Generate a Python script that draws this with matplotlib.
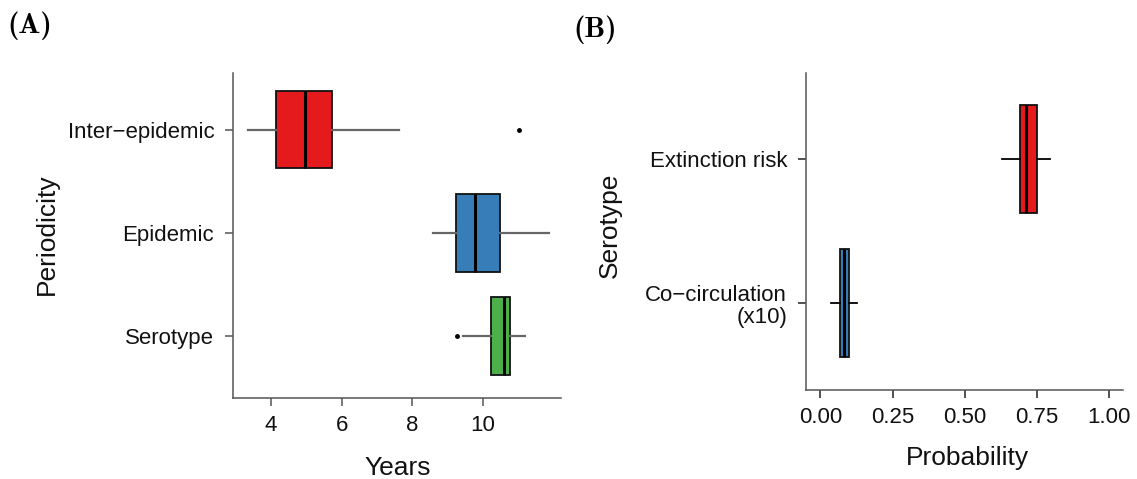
import matplotlib
matplotlib.use("Agg")
import matplotlib.pyplot as plt

plt.rcParams['font.family'] = ['Liberation Sans', 'DejaVu Sans']

# ---------------- Data ----------------
# Panel A: periodicity (years)
cats_a = ["Serotype", "Epidemic", "Inter\u2212epidemic"]
a_whislo = [9.43, 8.58, 3.36]
a_q1 = [10.23, 9.23, 4.15]
a_med = [10.58, 9.76, 4.96]
a_q3 = [10.77, 10.47, 5.73]
a_whishi = [11.17, 11.85, 7.61]
a_fliers = [[9.27], [], [11.0]]
a_colors = ["#4DAF4A", "#377EB8", "#E41A1C"]
a_xticks = [4, 6, 8, 10]

# Panel B: probability
cats_b = ["Co\u2212circulation\n(x10)", "Extinction risk"]
b_whislo = [0.035, 0.630]
b_q1 = [0.069, 0.691]
b_med = [0.081, 0.712]
b_q3 = [0.100, 0.749]
b_whishi = [0.126, 0.795]
b_colors = ["#377EB8", "#E41A1C"]
b_xticks = [0.0, 0.25, 0.5, 0.75, 1.0]
b_xticklabels = ["0.00", "0.25", "0.50", "0.75", "1.00"]

W, H = 1137, 479
fig = plt.figure(figsize=(W / 100, H / 100), dpi=100)

def px_axes(l, t, r, b):
    return fig.add_axes([l / W, 1 - b / H, (r - l) / W, (b - t) / H])

spine_col = "#555555"

def style(ax, tickcol):
    for s in ["top", "right"]:
        ax.spines[s].set_visible(False)
    for s in ["left", "bottom"]:
        ax.spines[s].set_color(spine_col)
        ax.spines[s].set_linewidth(1.1)
    ax.tick_params(axis="both", length=5.5, width=1.1, color=tickcol,
                   labelsize=16, labelcolor="#111111")
    ax.tick_params(axis="x", pad=6.5)
    ax.tick_params(axis="y", pad=8)

# ---------------- Panel A ----------------
axA = px_axes(233, 73, 561, 398)
statsA = []
for i in range(len(cats_a)):
    statsA.append(dict(whislo=a_whislo[i], q1=a_q1[i], med=a_med[i],
                       q3=a_q3[i], whishi=a_whishi[i], fliers=a_fliers[i]))
posA = list(range(1, len(cats_a) + 1))
bpA = axA.bxp(statsA, positions=posA, widths=0.75, orientation="horizontal",
              patch_artist=True, showcaps=False,
              boxprops=dict(edgecolor="#111111", linewidth=1.3),
              medianprops=dict(color="black", linewidth=2.2),
              whiskerprops=dict(color="#666666", linewidth=1.6),
              flierprops=dict(marker="o", markersize=2.5, markerfacecolor="black",
                              markeredgecolor="black"))
for patch, c in zip(bpA["boxes"], a_colors):
    patch.set_facecolor(c)
axA.set_xlim(2.93, 12.2)
axA.set_ylim(0.40, 3.55)
axA.set_xticks(a_xticks)
axA.set_yticks(posA)
axA.set_yticklabels(cats_a)
style(axA, spine_col)

# ---------------- Panel B ----------------
axB = px_axes(806, 73, 1123, 390)
statsB = []
for i in range(len(cats_b)):
    statsB.append(dict(whislo=b_whislo[i], q1=b_q1[i], med=b_med[i],
                       q3=b_q3[i], whishi=b_whishi[i], fliers=[]))
posB = list(range(1, len(cats_b) + 1))
bpB = axB.bxp(statsB, positions=posB, widths=0.75, orientation="horizontal",
              patch_artist=True, showcaps=False,
              boxprops=dict(edgecolor="#111111", linewidth=1.3),
              medianprops=dict(color="black", linewidth=2.2),
              whiskerprops=dict(color="black", linewidth=1.3))
for patch, c in zip(bpB["boxes"], b_colors):
    patch.set_facecolor(c)
axB.set_xlim(-0.05, 1.048)
axB.set_ylim(0.398, 2.60)
axB.set_xticks(b_xticks)
axB.set_xticklabels(b_xticklabels)
axB.set_yticks(posB)
axB.set_yticklabels(cats_b, ha="right", linespacing=1.05)
style(axB, "#222222")

# ---------------- Labels ----------------
fig.text(398 / W, 1 - 475 / H, "Years", fontsize=19, ha="center", va="baseline", color="#111111")
fig.text(967 / W, 1 - 465 / H, "Probability", fontsize=19, ha="center", va="baseline", color="#111111")
fig.text(47 / W, 1 - 234 / H, "Periodicity", fontsize=19, rotation=90, ha="center", va="center", color="#111111")
fig.text(610 / W, 1 - 225 / H, "Serotype", fontsize=19, rotation=90, ha="center", va="center", color="#111111")

fig.text(7 / W, 1 - 26 / H, "(A)", fontname="cmb10", fontsize=21, ha="left", va="center")
fig.text(573 / W, 1 - 30 / H, "(B)", fontname="cmb10", fontsize=21, ha="left", va="center")

fig.savefig("out.png", dpi=100, facecolor="white")
